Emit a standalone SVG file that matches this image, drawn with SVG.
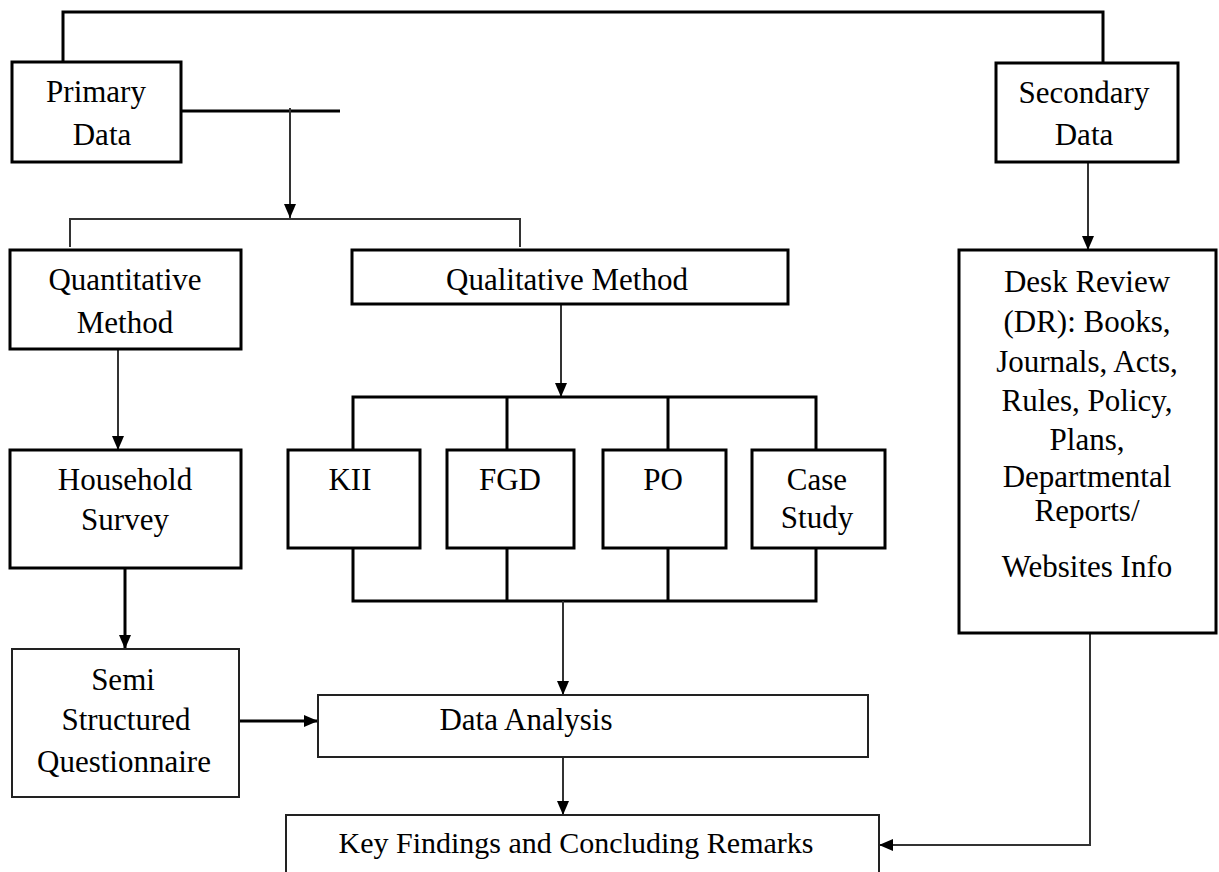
<svg xmlns="http://www.w3.org/2000/svg" width="1219" height="872" viewBox="0 0 1219 872">
<defs>
<style>
.box{fill:#fff;stroke:#000;stroke-width:3}
.tbox{fill:#fff;stroke:#222;stroke-width:2}
.t{font-family:"Liberation Serif","Times New Roman",serif;font-size:31px;fill:#000;text-anchor:middle}
.c{fill:none;stroke:#000;stroke-width:3}
.g{fill:none;stroke:#333;stroke-width:2}
</style>
<marker id="ah" markerUnits="userSpaceOnUse" markerWidth="14" markerHeight="14" viewBox="0 0 14 14" refX="14" refY="7" orient="auto">
<path d="M0,1 L14,7 L0,13 Z" fill="#000"/>
</marker>
</defs>
<rect width="1219" height="872" fill="#fff"/>
<g id="connectors">
<path class="c" d="M63,62 V12 H1103 V62"/>
<path class="c" d="M181,111 H340"/>
<path class="g" d="M290,108 V218" marker-end="url(#ah)"/>
<path class="g" d="M70,247 V219 H520 V247"/>
<path class="g" d="M1088,148 V250" marker-end="url(#ah)"/>
<path class="g" d="M118,349 V450" marker-end="url(#ah)"/>
<path class="g" d="M561,304 V397" marker-end="url(#ah)"/>
<path class="c" d="M353,450 V397 H816 V450 M507,397 V450 M668,397 V450"/>
<path class="c" d="M353,548 V601 H816 V548 M507,548 V601 M668,548 V601"/>
<path class="c" d="M125,568 V649" marker-end="url(#ah)"/>
<path class="g" d="M563,601 V695" marker-end="url(#ah)"/>
<path class="c" d="M220,721 H318" marker-end="url(#ah)"/>
<path class="g" d="M563,757 V815" marker-end="url(#ah)"/>
<path class="g" d="M1090,633 V845 H879" marker-end="url(#ah)"/>
</g>
<g id="primary">
<rect class="box" x="12" y="62" width="169" height="100"/>
<text class="t" x="96" y="102">Primary</text>
<text class="t" x="102" y="145">Data</text>
</g>
<g id="secondary">
<rect class="box" x="996" y="63" width="182" height="99"/>
<text class="t" x="1084" y="103">Secondary</text>
<text class="t" x="1084" y="145">Data</text>
</g>
<g id="quantitative">
<rect class="box" x="10" y="250" width="231" height="99"/>
<text class="t" x="125" y="290">Quantitative</text>
<text class="t" x="125" y="333">Method</text>
</g>
<g id="qualitative">
<rect class="box" x="352" y="250" width="436" height="54"/>
<text class="t" x="567" y="290">Qualitative Method</text>
</g>
<g id="desk-review">
<rect class="box" x="959" y="250" width="257" height="383"/>
<text class="t" x="1087" y="292">Desk Review</text>
<text class="t" x="1087" y="332">(DR): Books,</text>
<text class="t" x="1087" y="372">Journals, Acts,</text>
<text class="t" x="1087" y="411">Rules, Policy,</text>
<text class="t" x="1087" y="450">Plans,</text>
<text class="t" x="1087" y="487">Departmental</text>
<text class="t" x="1087" y="521">Reports/</text>
<text class="t" x="1087" y="577">Websites Info</text>
</g>
<g id="household">
<rect class="box" x="10" y="450" width="231" height="118"/>
<text class="t" x="125" y="490">Household</text>
<text class="t" x="125" y="530">Survey</text>
</g>
<g id="kii">
<rect class="box" x="288" y="450" width="132" height="98"/>
<text class="t" x="350" y="490">KII</text>
</g>
<g id="fgd">
<rect class="box" x="447" y="450" width="127" height="98"/>
<text class="t" x="510" y="490">FGD</text>
</g>
<g id="po">
<rect class="box" x="603" y="450" width="123" height="98"/>
<text class="t" x="663" y="490">PO</text>
</g>
<g id="case-study">
<rect class="box" x="752" y="450" width="133" height="98"/>
<text class="t" x="817" y="490">Case</text>
<text class="t" x="817" y="528">Study</text>
</g>
<g id="semi-structured">
<rect class="tbox" x="12" y="649" width="227" height="148"/>
<text class="t" x="123" y="690">Semi</text>
<text class="t" x="126" y="730">Structured</text>
<text class="t" x="124" y="772">Questionnaire</text>
</g>
<g id="data-analysis">
<rect class="tbox" x="318" y="695" width="550" height="62"/>
<text class="t" x="526" y="730">Data Analysis</text>
</g>
<g id="key-findings">
<rect class="tbox" x="286" y="815" width="593" height="70"/>
<text class="t" x="576" y="853" style="font-size:30px">Key Findings and Concluding Remarks</text>
</g>
</svg>
